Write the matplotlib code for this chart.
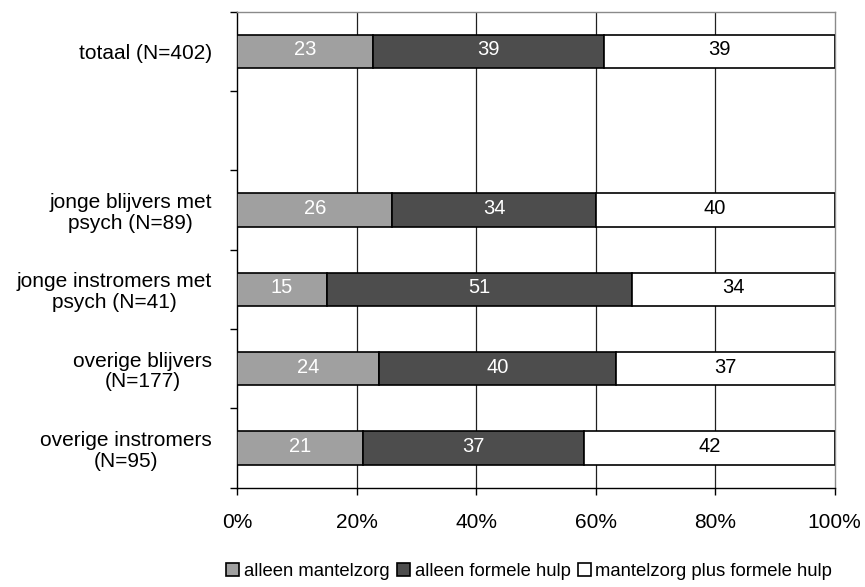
import numpy as np
import matplotlib.pyplot as plt
from matplotlib.patches import Patch

plt.rcParams["font.family"] = ["Liberation Sans", "DejaVu Sans"]
plt.rcParams["font.size"] = 15

# Groups top to bottom; the empty string is a spacer row under the total
groups = [
    "totaal (N=402)",
    "",
    "jonge blijvers met\npsych (N=89)",
    "jonge instromers met\npsych (N=41)",
    "overige blijvers\n(N=177)",
    "overige instromers\n(N=95)",
]
alleen_mantelzorg = [23, np.nan, 26, 15, 24, 21]
alleen_formeel = [39, np.nan, 34, 51, 40, 37]
mantelzorg_plus = [39, np.nan, 40, 34, 37, 42]

series_names = ["alleen mantelzorg", "alleen formele hulp", "mantelzorg plus formele hulp"]
fills = ["#a0a0a0", "#4d4d4d", "#ffffff"]
text_colors = ["white", "white", "black"]

fig = plt.figure(figsize=(8.65, 5.87), dpi=100)
ax = fig.add_axes([0.274, 0.169, 0.691, 0.811])

data = np.array([alleen_mantelzorg, alleen_formeel, mantelzorg_plus], dtype=float)
totals = np.nansum(data, axis=0)
ypos = np.arange(len(groups))[::-1]

for i, y in enumerate(ypos):
    if np.isnan(data[0, i]):
        continue
    left = 0.0
    for s in range(3):
        share = data[s, i] / totals[i]
        ax.barh(y, share, left=left, height=0.42, color=fills[s],
                edgecolor="black", linewidth=1.2, zorder=3)
        ax.text(left + share / 2, y + 0.02, f"{data[s, i]:.0f}", ha="center",
                va="center", color=text_colors[s], fontsize=14.5, zorder=4)
        left += share

ax.set_xlim(0, 1)
ax.set_ylim(-0.5, len(groups) - 0.5)
ax.set_xticks(np.linspace(0, 1, 6))
ax.set_xticklabels([f"{p}%" for p in range(0, 101, 20)])
ax.tick_params(axis="x", direction="out", length=5, width=1, pad=13)

ax.set_yticks(ypos)
ax.set_yticklabels(groups, multialignment="center", linespacing=1.1)
ax.tick_params(axis="y", which="major", length=0, pad=18)
ax.set_yticks(np.arange(len(groups) + 1) - 0.5, minor=True)
ax.tick_params(axis="y", which="minor", direction="out", length=5, width=1)

for x in [0.2, 0.4, 0.6, 0.8]:
    ax.axvline(x, color="#202020", linewidth=0.9, zorder=1)

ax.spines["left"].set_color("black")
ax.spines["bottom"].set_color("black")
ax.spines["top"].set_color("#8a8a8a")
ax.spines["right"].set_color("#8a8a8a")
for sp in ax.spines.values():
    sp.set_linewidth(1.0)

handles = [Patch(facecolor=c, edgecolor="black", linewidth=1.2) for c in fills]
fig.legend(handles, series_names, loc="center", bbox_to_anchor=(0.612, 0.027),
           ncol=3, frameon=False, handlelength=0.7, handleheight=0.7,
           handletextpad=0.25, columnspacing=0.4, fontsize=13.3)

fig.savefig("out.png", dpi=100)
